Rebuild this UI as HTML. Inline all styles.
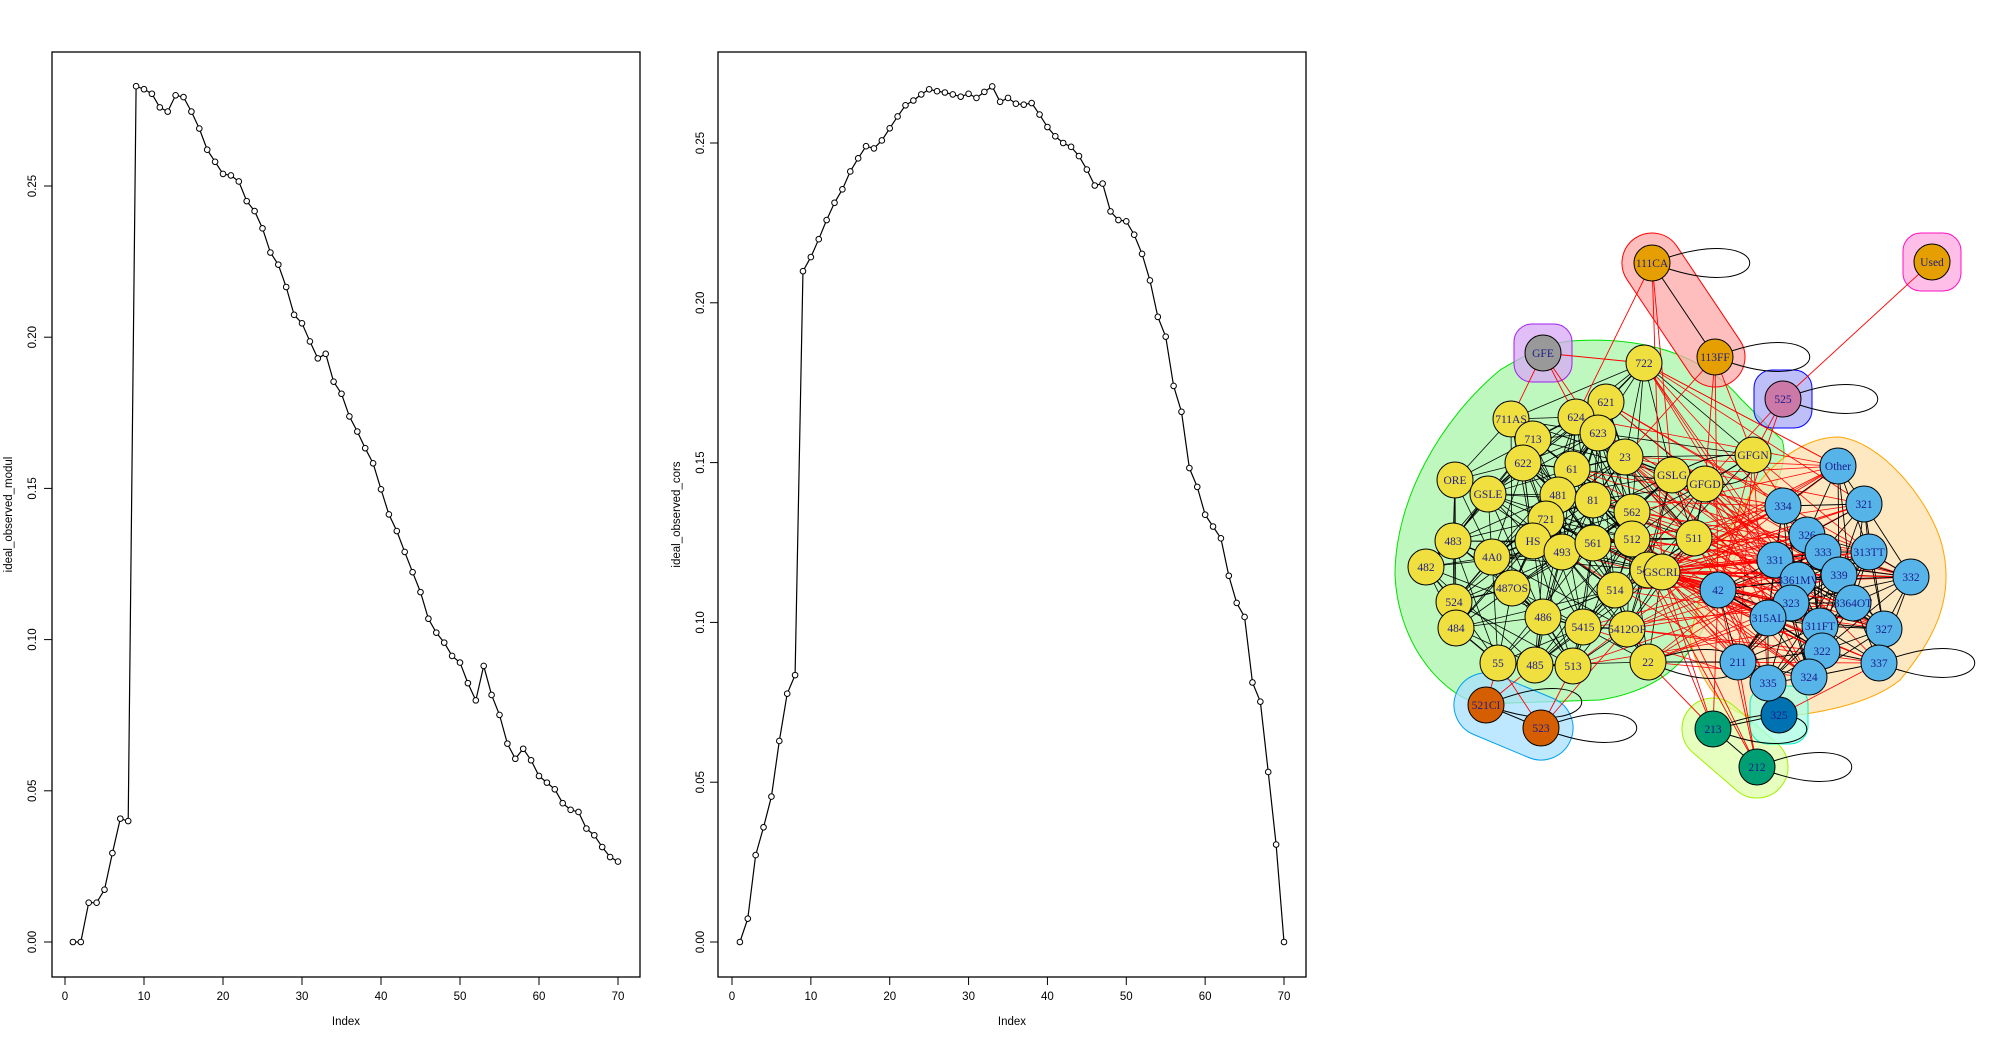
<!DOCTYPE html>
<html><head><meta charset="utf-8"><style>
html,body{margin:0;padding:0;background:#fff;}
svg{display:block;}
.tk{font-family:"Liberation Sans",Arial,sans-serif;font-size:11.5px;fill:#000;}
.nl{font-family:"Liberation Serif",serif;font-size:11.5px;fill:#1c1c8c;}
</style></head><body>
<svg id="root" width="2000" height="1041" viewBox="0 0 2000 1041" xmlns="http://www.w3.org/2000/svg">
<g id="p1"></g>
<g id="p2"></g>
<g id="net"></g>
</svg>
<script>
const indexTicks=[0,10,20,30,40,50,60,70];
const yTicks=[0,0.05,0.10,0.15,0.20,0.25];
const yTickLabels=["0.00","0.05","0.10","0.15","0.20","0.25"];
const modulValues=[0,0,.013,.013,.0173,.0294,.0408,.040,.283,.282,.2805,.276,.2746,.280,.2794,.2746,.269,.262,.258,.254,.2535,.2515,.245,.2417,.236,.228,.224,.2166,.2074,.2046,.1986,.193,.1945,.1853,.1813,.1738,.1688,.1633,.1583,.1497,.1414,.1359,.129,.1223,.1157,.1069,.1023,.099,.0946,.0924,.0856,.0799,.0913,.0817,.0751,.0656,.0606,.0639,.0601,.0549,.0527,.0505,.0459,.0437,.043,.0375,.0353,.0314,.0281,.0266];
const corsValues=[0,.0073,.0272,.0359,.0455,.0629,.0777,.0835,.2099,.2143,.2199,.2259,.2313,.2355,.2411,.2452,.249,.2483,.2508,.2546,.2583,.2618,.2633,.2652,.2668,.2662,.2658,.2652,.2645,.2654,.2641,.266,.2677,.2629,.2641,.2623,.262,.2625,.2589,.255,.2521,.25,.2488,.2459,.2417,.2367,.2373,.2286,.2259,.2255,.2213,.2153,.207,.1956,.1894,.174,.1659,.1483,.1424,.1337,.13,.1263,.1146,.1061,.1017,.0812,.0752,.0532,.0305,0];
const NS="http://www.w3.org/2000/svg";
function mk(t,a,p){const e=document.createElementNS(NS,t);for(const k in a)e.setAttribute(k,a[k]);p.appendChild(e);return e;}
function plot(g,vals,box,yLab){
  const [L,R,T,B,x0,x70,y0,y25,labX,tickLabX]=box;
  const sx=v=>x0+(x70-x0)*v/70, sy=v=>y0+(y25-y0)*v/0.25;
  let r=mk('rect',{x:L,y:T,width:R-L,height:B-T,fill:'none',stroke:'#000','stroke-width':1.3},g);
  
  
  indexTicks.forEach(v=>{
    let l=mk('line',{x1:sx(v),x2:sx(v),y1:B,y2:B+8,stroke:'#000'},g);
    
    
    let t=mk('text',{x:sx(v),y:1000,'text-anchor':'middle',class:'tk'},g);t.textContent=v;
    
    
  });
  yTicks.forEach((v,i)=>{
    let l=mk('line',{x1:L,x2:L-8,y1:sy(v),y2:sy(v),stroke:'#000'},g);
    
    
    let t=mk('text',{x:0,y:0,'text-anchor':'middle',class:'tk',transform:`translate(${tickLabX},${sy(v)}) rotate(-90)`},g);t.textContent=yTickLabels[i];
    
    
  });
  let xl=mk('text',{x:(L+R)/2,y:1025,'text-anchor':'middle',class:'tk'},g);xl.textContent='Index';
  
  
  let yl=mk('text',{x:0,y:0,'text-anchor':'middle',class:'tk',transform:`translate(${labX},${(T+B)/2}) rotate(-90)`},g);yl.textContent=yLab;
  
  
  const pts=vals.map((v,i)=>sx(i+1)+','+sy(v)).join(' ');
  let pl=mk('polyline',{points:pts,fill:'none',stroke:'#000','stroke-width':1.2},g);
  
  
  vals.forEach((v,i)=>{
    let c=mk('circle',{cx:sx(i+1),cy:sy(v),r:2.8,fill:'#fff',stroke:'#000','stroke-width':1},g);
    
    
  });
}
plot(document.getElementById('p1'),modulValues,[52,640,52,977,65,618,942,186,12,36],'ideal_observed_modul');
plot(document.getElementById('p2'),corsValues,[718,1306,52,977,732,1284,942,143,680,704],'ideal_observed_cors');

const net=document.getElementById('net');
const Y='#efe040',B='#56b4e9',O='#e69f00';
const nodes=[
['111CA',1652,263,O],['113FF',1715,357,O],['GFE',1543,353,'#999999'],['Used',1932,262,O],['525',1783,399,'#cc79a7'],
['722',1644,363,Y],['621',1606,402,Y],['624',1576,417,Y],['623',1598,433,Y],['711AS',1511,419,Y],['713',1533,439,Y],['622',1523,463,Y],['23',1625,457,Y],['61',1572,469,Y],['GSLG',1672,475,Y],['GFGD',1705,484,Y],['GFGN',1753,455,Y],['ORE',1455,480,Y],['GSLE',1488,494,Y],['481',1558,495,Y],['81',1593,500,Y],['562',1632,512,Y],['721',1546,519,Y],['483',1453,541,Y],['HS',1533,541,Y],['493',1562,552,Y],['561',1593,543,Y],['512',1632,539,Y],['511',1694,538,Y],['482',1426,567,Y],['4A0',1492,557,Y],['5413',1648,570,Y],['GSCRL',1662,572,Y],['487OS',1512,588,Y],['514',1615,590,Y],['524',1454,602,Y],['486',1543,617,Y],['5415',1583,627,Y],['5412OP',1627,629,Y],['484',1456,628,Y],['55',1498,663,Y],['485',1535,665,Y],['513',1573,666,Y],['22',1648,662,Y],
['521CI',1486,705,'#d55e00'],['523',1541,728,'#d55e00'],['213',1713,729,'#009e73'],['212',1757,767,'#009e73'],['325',1779,715,'#0072b2'],
['Other',1838,466,B],['334',1783,506,B],['321',1864,504,B],['326',1807,535,B],['333',1823,552,B],['313TT',1869,552,B],['331',1775,560,B],['339',1839,575,B],['332',1911,577,B],['3361MV',1798,580,B],['42',1718,590,B],['323',1791,603,B],['3364OT',1853,603,B],['315AL',1768,618,B],['311FT',1820,626,B],['327',1884,629,B],['322',1822,651,B],['211',1738,662,B],['337',1879,663,B],['335',1768,683,B],['324',1809,677,B]
];
const idx={};nodes.forEach((n,i)=>idx[n[0]]=i);
const hulls=net.appendChild(document.createElementNS(NS,'g'));
function hull(d,fill,stroke,name){let p=mk('path',{d:d,fill:fill,stroke:stroke,'stroke-width':1,'fill-opacity':0.75},hulls);
  
  }
function cap(a,b,r,fill,stroke,name){const A=nodes[idx[a]],Bn=nodes[idx[b]];const dx=Bn[1]-A[1],dy=Bn[2]-A[2],len=Math.hypot(dx,dy),ang=Math.atan2(dy,dx)*180/Math.PI;
  let e=mk('rect',{x:-r,y:-r,width:len+2*r,height:2*r,rx:r,fill:fill,stroke:stroke,'fill-opacity':0.75,transform:`translate(${A[1]},${A[2]}) rotate(${ang})`},hulls);
  
  }
function sq(a,fill,stroke,name){const A=nodes[idx[a]];let e=mk('rect',{x:A[1]-29,y:A[2]-29,width:58,height:58,rx:18,fill:fill,stroke:stroke,'fill-opacity':0.75},hulls);
  
  }
hull('M1570,341 C1640,336 1700,352 1740,398 L1782,440 C1790,462 1772,500 1748,528 L1712,610 C1692,660 1662,690 1600,700 L1478,704 C1436,690 1398,640 1395,575 C1395,500 1440,420 1500,370 C1530,352 1550,343 1570,341Z','#a8f5a8','#00e000','hull-yellow-group');
hull('M1838,437 C1880,440 1930,500 1942,545 C1956,600 1932,642 1900,680 C1870,705 1810,716 1762,718 C1722,716 1700,682 1690,640 C1700,580 1740,500 1770,470 C1790,450 1815,437 1838,437Z','#fde0ad','#ffa500','hull-blue-group');
cap('111CA','113FF',30,'#ffa8a8','#ff0000','hull-111ca-113ff');
cap('521CI','523',32,'#a8e0ff','#00a0f0','hull-521ci-523');
cap('213','212',31,'#ddffa8','#a0f000','hull-213-212');
sq('GFE','#d8a8f5','#a020f0','hull-gfe');
sq('525','#a8a8f5','#0000ff','hull-525');
sq('Used','#ffa8e0','#ff10c0','hull-used');
sq('325','#a8ffe4','#00f0c0','hull-325');
const eg=net.appendChild(document.createElementNS(NS,'g'));
function edge(i,j,col,w){const a=nodes[i],b=nodes[j];let l=mk('line',{x1:a[1],y1:a[2],x2:b[1],y2:b[2],stroke:col,'stroke-width':w||0.9},eg);
  
  }
for(let i=0;i<nodes.length;i++)for(let j=i+1;j<nodes.length;j++){
  const a=nodes[i],b=nodes[j];const d=Math.hypot(a[1]-b[1],a[2]-b[2]);const h=(i*31+j*17)%7;
  if(a[3]===Y&&b[3]===Y){ if(d<75||(d<170&&h<3)) edge(i,j,'#000',d<60?1.3:0.8);}
  else if(a[3]===B&&b[3]===B){ if(d<80||(d<140&&h<3)) edge(i,j,'#000',0.9);}
  else if((a[3]===Y&&b[3]===B)||(a[3]===B&&b[3]===Y)){ const yn=a[3]===Y?a:b; if(yn[1]>1620&&h<2) edge(i,j,'#ff0000',0.8); else if(h===0&&yn[1]>1560) edge(i,j,'#ff0000',0.8);}
}
const hub=idx['GSCRL'];
nodes.forEach((n,i)=>{if(n[3]===B&&i!==hub){edge(hub,i,'#ff0000',0.9);edge(idx['5413'],i,'#ff0000',0.7);}});
[['GFE','722'],['GFE','711AS'],['GFE','624'],['GFE','623'],['111CA','624'],['111CA','GSLG'],['111CA','GSCRL'],['113FF','GFGD'],['113FF','GFGN'],['113FF','23'],['113FF','42'],['Used','525'],['525','GFGN'],['525','42'],['525','GFGD'],['722','Other'],['521CI','55'],['521CI','485'],['523','513'],['523','5412OP'],['523','55'],['213','22'],['213','GSCRL'],['213','42'],['212','42'],['212','211'],['212','GSCRL'],['325','42'],['325','337'],['213','5413'],['212','5413'],['711AS','622']].forEach(p=>edge(idx[p[0]],idx[p[1]],'#ff0000',0.9));
[['111CA','113FF'],['521CI','523'],['213','212'],['213','325'],['211','335'],['22','211']].forEach(p=>edge(idx[p[0]],idx[p[1]],'#000',1));
const loops=[['111CA',98,0],['113FF',95,0],['525',95,0],['337',96,0],['212',95,0],['523',96,0],['521CI',96,-4],['213',94,0],['22',92,4],['GSLG',80,-10]];
loops.forEach(l=>{const n=nodes[idx[l[0]]];const x=n[1],y=n[2],L=l[1]*1.33,t=l[2];
  let p=mk('path',{d:`M${x},${y} C${x+L},${y-50+t} ${x+L},${y+50+t} ${x},${y}`,fill:'none',stroke:'#000','stroke-width':1},eg);
  
  });
const ng=net.appendChild(document.createElementNS(NS,'g'));
nodes.forEach(n=>{
  let c=mk('circle',{cx:n[1],cy:n[2],r:18,fill:n[3],stroke:'#000','stroke-width':1},ng);
  
  
  let t=mk('text',{x:n[1],y:n[2]+4,'text-anchor':'middle',class:'nl'},ng);t.textContent=n[0];
  
  
});
</script>
</body></html>
